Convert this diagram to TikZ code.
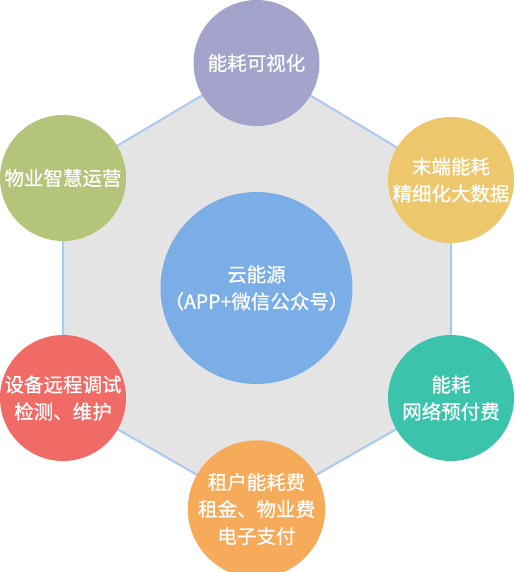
\documentclass[tikz,border=0pt]{standalone}
\usepackage{fontspec}
\setmainfont[FakeBold=0.6]{Noto Sans CJK SC}
\definecolor{hexfill}{HTML}{E4E4E4}
\definecolor{hexline}{HTML}{A9C9EE}
\definecolor{cpurple}{HTML}{A3A3CB}
\definecolor{cgreen}{HTML}{B4C47B}
\definecolor{cyellow}{HTML}{EDC76B}
\definecolor{cblue}{HTML}{7BADE6}
\definecolor{cred}{HTML}{F06B65}
\definecolor{cteal}{HTML}{3BC3AB}
\definecolor{corange}{HTML}{F6AB5A}
\tikzset{
  bubble/.style={circle, minimum size=126pt, inner sep=0pt, text=white, align=center,
    font=\fontsize{19.5pt}{27pt}\selectfont},
  bigbubble/.style={bubble, minimum size=192pt},
}
\begin{document}
\begin{tikzpicture}[x=1pt,y=-1pt]
\useasboundingbox (0,0) rectangle (514,572);
\coordinate (h1) at (256.5,63);
\coordinate (h2) at (451,180);
\coordinate (h3) at (451,398);
\coordinate (h4) at (256.5,509);
\coordinate (h5) at (63,398);
\coordinate (h6) at (63,178);
\draw[fill=hexfill, draw=hexline, line width=2pt, line join=round]
  (h1) -- (h2) -- (h3) -- (h4) -- (h5) -- (h6) -- cycle;
\node[bigbubble, fill=cblue] (center) at (256.5,288) {云能源\\（APP+微信公众号）};
\node[bubble, fill=cpurple] (top) at (h1) {能耗可视化};
\node[bubble, fill=cyellow] (ru) at (h2) {末端能耗\\精细化大数据};
\node[bubble, fill=cteal] (rd) at (h3) {能耗\\网络预付费};
\node[bubble, fill=corange] (bot) at (h4) {租户能耗费\\租金、物业费\\电子支付};
\node[bubble, fill=cred] (ld) at (h5) {设备远程调试\\检测、维护};
\node[bubble, fill=cgreen] (lu) at (h6) {物业智慧运营};
\end{tikzpicture}
\end{document}
